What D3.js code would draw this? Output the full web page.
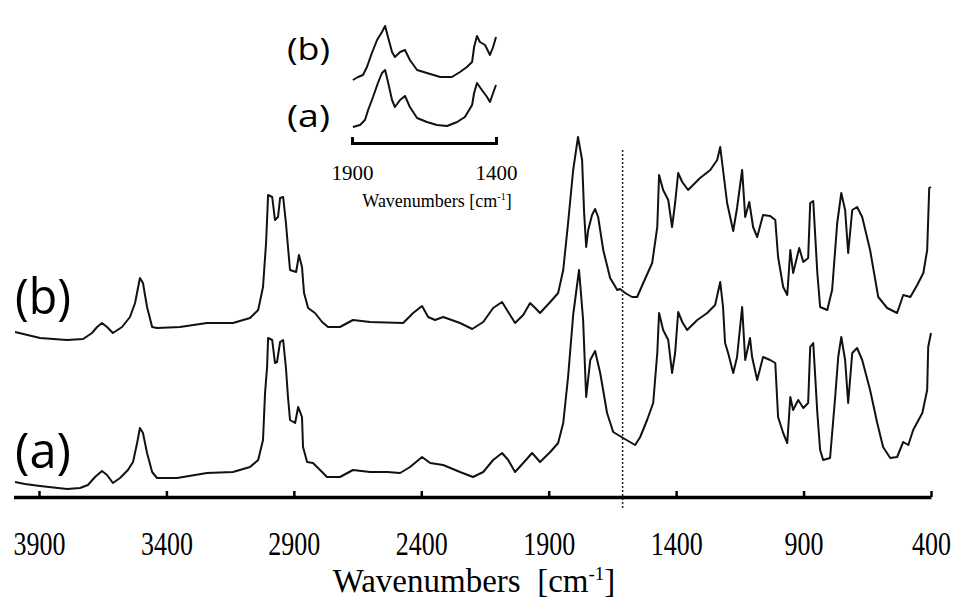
<!DOCTYPE html>
<html>
<head>
<meta charset="utf-8">
<script src="https://cdn.jsdelivr.net/npm/d3@7"></script>
<style>
  body { margin: 0; background: #fff; }
  svg { display: block; }
</style>
</head>
<body>
<div id="chart"></div>
<script>
// IR spectra, [wavenumber (cm-1), absorbance (a.u.)]
const spectrumA = [
  [3994, 0.15], [3955, 0.13], [3896, 0.11], [3790, 0.08], [3739, 0.09], [3708, 0.12],
  [3680, 0.20], [3653, 0.26], [3633, 0.22], [3610, 0.14], [3582, 0.19], [3551, 0.27],
  [3531, 0.35], [3515, 0.54], [3504, 0.69], [3492, 0.64], [3476, 0.44], [3456, 0.25],
  [3437, 0.19], [3358, 0.19], [3241, 0.24], [3139, 0.25], [3072, 0.30], [3040, 0.37],
  [3021, 0.57], [3013, 1.04], [3005, 1.30], [3001, 1.59], [2985, 1.57], [2974, 1.34],
  [2966, 1.35], [2954, 1.55], [2942, 1.57], [2931, 1.29], [2923, 1.00], [2915, 0.77],
  [2895, 0.74], [2883, 0.90], [2868, 0.80], [2864, 0.50], [2848, 0.35], [2825, 0.34],
  [2797, 0.27], [2770, 0.20], [2719, 0.20], [2668, 0.27], [2601, 0.25], [2534, 0.25],
  [2483, 0.24], [2444, 0.30], [2397, 0.40], [2365, 0.34], [2314, 0.32], [2248, 0.25],
  [2197, 0.20], [2157, 0.25], [2118, 0.37], [2083, 0.44], [2059, 0.37], [2032, 0.25],
  [2000, 0.34], [1965, 0.44], [1934, 0.35], [1894, 0.45], [1863, 0.54], [1843, 0.74],
  [1824, 1.20], [1804, 1.82], [1781, 2.27], [1765, 1.77], [1753, 1.00], [1737, 1.37],
  [1718, 1.46], [1698, 1.24], [1671, 0.84], [1647, 0.65], [1608, 0.59], [1561, 0.52],
  [1541, 0.60], [1514, 0.77], [1490, 0.94], [1474, 1.44], [1467, 1.84], [1451, 1.67],
  [1431, 1.57], [1416, 1.24], [1404, 1.44], [1392, 1.85], [1376, 1.75], [1357, 1.67],
  [1317, 1.77], [1278, 1.84], [1247, 1.92], [1227, 2.15], [1216, 1.90], [1208, 1.54],
  [1196, 1.44], [1176, 1.24], [1161, 1.40], [1141, 1.90], [1129, 1.37], [1110, 1.59],
  [1102, 1.40], [1082, 1.17], [1059, 1.40], [1031, 1.37], [1011, 1.34], [1000, 0.80],
  [980, 0.64], [964, 0.54], [952, 1.00], [941, 0.87], [921, 0.97], [901, 0.89],
  [882, 0.94], [874, 1.50], [862, 1.54], [846, 0.84], [835, 0.47], [823, 0.37],
  [796, 0.39], [776, 1.00], [764, 1.40], [752, 1.60], [737, 1.37], [725, 0.94],
  [709, 1.44], [690, 1.49], [670, 1.37], [639, 1.07], [611, 0.74], [588, 0.50],
  [560, 0.39], [533, 0.40], [509, 0.55], [489, 0.52], [470, 0.67], [434, 0.84],
  [415, 1.07], [411, 1.50], [400, 1.64]
];

const spectrumB = [
  [3994, 1.65], [3896, 1.59], [3790, 1.57], [3727, 1.58], [3692, 1.64], [3672, 1.70],
  [3653, 1.74], [3633, 1.70], [3610, 1.64], [3574, 1.70], [3543, 1.80], [3523, 1.94],
  [3504, 2.19], [3492, 2.14], [3476, 1.90], [3456, 1.70], [3437, 1.69], [3347, 1.70],
  [3241, 1.74], [3139, 1.74], [3072, 1.79], [3040, 1.87], [3021, 2.10], [3009, 2.54],
  [3001, 3.02], [2985, 3.00], [2974, 2.77], [2962, 2.80], [2954, 2.99], [2942, 3.00],
  [2931, 2.74], [2923, 2.50], [2915, 2.27], [2891, 2.25], [2880, 2.42], [2868, 2.30],
  [2860, 2.04], [2844, 1.89], [2817, 1.84], [2789, 1.75], [2766, 1.70], [2719, 1.70],
  [2668, 1.77], [2601, 1.75], [2471, 1.74], [2432, 1.84], [2397, 1.91], [2373, 1.80],
  [2346, 1.77], [2314, 1.80], [2248, 1.74], [2200, 1.68], [2157, 1.75], [2118, 1.89],
  [2083, 1.95], [2059, 1.85], [2032, 1.74], [2000, 1.82], [1973, 1.94], [1953, 1.89],
  [1934, 1.84], [1894, 1.95], [1863, 2.04], [1843, 2.27], [1824, 2.74], [1804, 3.27],
  [1785, 3.60], [1769, 3.37], [1761, 2.84], [1753, 2.50], [1745, 2.67], [1730, 2.82],
  [1718, 2.88], [1706, 2.80], [1686, 2.47], [1659, 2.19], [1631, 2.07], [1620, 2.08],
  [1600, 2.04], [1573, 2.00], [1553, 2.00], [1529, 2.14], [1494, 2.34], [1474, 2.70],
  [1467, 3.22], [1451, 3.07], [1431, 2.97], [1416, 2.70], [1404, 2.94], [1392, 3.24],
  [1376, 3.15], [1353, 3.07], [1306, 3.19], [1266, 3.27], [1239, 3.37], [1227, 3.50],
  [1216, 3.27], [1200, 2.94], [1176, 2.66], [1161, 2.89], [1141, 3.27], [1129, 2.80],
  [1113, 2.95], [1098, 2.70], [1082, 2.60], [1059, 2.82], [1031, 2.81], [1011, 2.77],
  [1000, 2.40], [980, 2.10], [964, 2.02], [952, 2.47], [941, 2.24], [917, 2.49],
  [901, 2.35], [882, 2.39], [874, 2.94], [862, 2.96], [846, 2.24], [835, 1.90],
  [807, 1.87], [788, 2.07], [768, 2.74], [752, 3.04], [737, 2.87], [725, 2.44],
  [709, 2.87], [690, 2.90], [670, 2.80], [639, 2.47], [607, 2.00], [572, 1.89],
  [533, 1.84], [509, 2.02], [481, 2.00], [454, 2.12], [430, 2.24], [415, 2.47],
  [407, 3.09], [400, 3.10]
];

// enlarged 1900-1400 cm-1 region
const insetA = [
  [1897, 0.16], [1872, 0.18], [1855, 0.23], [1844, 0.33], [1827, 0.46], [1810, 0.60],
  [1796, 0.70], [1785, 0.73], [1775, 0.61], [1761, 0.43], [1751, 0.36], [1733, 0.43],
  [1716, 0.47], [1699, 0.36], [1674, 0.25], [1640, 0.21], [1605, 0.18], [1570, 0.17],
  [1535, 0.21], [1508, 0.26], [1483, 0.38], [1476, 0.50], [1466, 0.60], [1449, 0.53],
  [1431, 0.46], [1421, 0.41], [1410, 0.50], [1400, 0.58]
];

const insetB = [
  [1897, 0.63], [1879, 0.66], [1862, 0.68], [1848, 0.76], [1831, 0.90], [1813, 1.03],
  [1796, 1.11], [1785, 1.17], [1775, 1.06], [1761, 0.91], [1751, 0.86], [1733, 0.91],
  [1716, 0.93], [1699, 0.83], [1674, 0.73], [1640, 0.70], [1594, 0.66], [1553, 0.66],
  [1525, 0.71], [1501, 0.76], [1483, 0.81], [1476, 0.96], [1466, 1.07], [1456, 1.01],
  [1438, 0.98], [1421, 0.88], [1410, 0.96], [1400, 1.06]
];

const mainTicks = [3900, 3400, 2900, 2400, 1900, 1400, 900, 400];
const insetTicks = [1900, 1400];
const markerWavenumber = 1610;
const seriesNames = ["(a)", "(b)"];

const width = 962,
  height = 601;

const svg = d3
  .select("#chart")
  .append("svg")
  .attr("width", width)
  .attr("height", height)
  .attr("viewBox", [0, 0, width, height]);

const serif = "'Liberation Serif', 'Times New Roman', serif";
const sans = "'Open Sans', 'Noto Sans', sans-serif";

/* Main spectra */
const x = d3.scaleLinear().domain([4000, 400]).range([13.5, 931]);
const y = d3.scaleLinear().domain([0, 3.6]).range([497, 137]);

const line = d3
  .line()
  .x((d) => x(d[0]))
  .y((d) => y(d[1]));

svg
  .append("g")
  .selectAll("path")
  .data([spectrumA, spectrumB])
  .join("path")
  .attr("d", line)
  .attr("fill", "none")
  .attr("stroke", "#111")
  .attr("stroke-width", 2)
  .attr("stroke-linejoin", "round");

// dotted marker line
svg
  .append("line")
  .attr("x1", x(markerWavenumber))
  .attr("x2", x(markerWavenumber))
  .attr("y1", 150)
  .attr("y2", 509)
  .attr("stroke", "#222")
  .attr("stroke-width", 1.5)
  .attr("stroke-dasharray", "2,2");

// x axis, ticks pointing up
const xAxis = d3
  .axisBottom(x)
  .tickValues(mainTicks)
  .tickSizeInner(-6)
  .tickSizeOuter(0)
  .tickFormat(d3.format("d"));

const gx = svg
  .append("g")
  .attr("transform", `translate(0,${y(0)})`)
  .call(xAxis);

gx.select(".domain").attr("stroke", "#000").attr("stroke-width", 3.5);
gx.selectAll(".tick line").attr("stroke", "#000").attr("stroke-width", 2.5);
gx.selectAll(".tick text")
  .attr("y", 0)
  .attr("dy", 0)
  .attr("transform", "translate(0,58) scale(1,1.3)")
  .attr("fill", "#000")
  .style("font-family", serif)
  .style("font-size", "26px");

// axis title
const title = svg
  .append("text")
  .attr("x", 474)
  .attr("y", 592)
  .attr("text-anchor", "middle")
  .style("font-family", serif)
  .style("font-size", "33px")
  .style("white-space", "pre")
  .attr("fill", "#000");
title.append("tspan").text("Wavenumbers  [cm");
title.append("tspan").text("-1").style("font-size", "19px").attr("dy", -12);
title.append("tspan").text("]").attr("dy", 12);

// series labels
svg
  .selectAll(".series-label")
  .data(seriesNames)
  .join("text")
  .attr("class", "series-label")
  .attr("x", 15)
  .attr("y", (d, i) => (i === 0 ? 468 : 314))
  .attr("textLength", 56)
  .attr("lengthAdjust", "spacingAndGlyphs")
  .style("font-family", sans)
  .style("font-size", "50px")
  .attr("fill", "#000")
  .text((d) => d);

/* Inset: 1900-1400 cm-1 */
const xi = d3.scaleLinear().domain([1900, 1400]).range([352, 496]);
const yi = d3.scaleLinear().domain([0, 1.2]).range([143, 23]);

const insetLine = d3
  .line()
  .x((d) => xi(d[0]))
  .y((d) => yi(d[1]));

svg
  .append("g")
  .selectAll("path")
  .data([insetA, insetB])
  .join("path")
  .attr("d", insetLine)
  .attr("fill", "none")
  .attr("stroke", "#111")
  .attr("stroke-width", 2)
  .attr("stroke-linejoin", "round");

const insetAxis = d3
  .axisBottom(xi)
  .tickValues(insetTicks)
  .tickSizeInner(-6)
  .tickSizeOuter(-6)
  .tickFormat(d3.format("d"));

const gi = svg
  .append("g")
  .attr("transform", `translate(0,${yi(0)})`)
  .call(insetAxis);

gi.select(".domain").attr("stroke", "#000").attr("stroke-width", 3);
gi.selectAll(".tick line").attr("stroke", "#000").attr("stroke-width", 2.5);
gi.selectAll(".tick text")
  .attr("y", 37)
  .attr("dy", 0)
  .attr("fill", "#000")
  .style("font-family", serif)
  .style("font-size", "21px");

const insetTitle = svg
  .append("text")
  .attr("x", 437)
  .attr("y", 207)
  .attr("text-anchor", "middle")
  .style("font-family", serif)
  .style("font-size", "18px")
  .attr("fill", "#000");
insetTitle.append("tspan").text("Wavenumbers [cm");
insetTitle.append("tspan").text("-1").style("font-size", "10px").attr("dy", -7);
insetTitle.append("tspan").text("]").attr("dy", 7);

svg
  .selectAll(".inset-label")
  .data(seriesNames)
  .join("text")
  .attr("class", "inset-label")
  .attr("x", 287)
  .attr("y", (d, i) => (i === 0 ? 127 : 60))
  .attr("textLength", 43)
  .attr("lengthAdjust", "spacingAndGlyphs")
  .style("font-family", sans)
  .style("font-size", "31px")
  .attr("fill", "#000")
  .text((d) => d);
</script>
</body>
</html>
